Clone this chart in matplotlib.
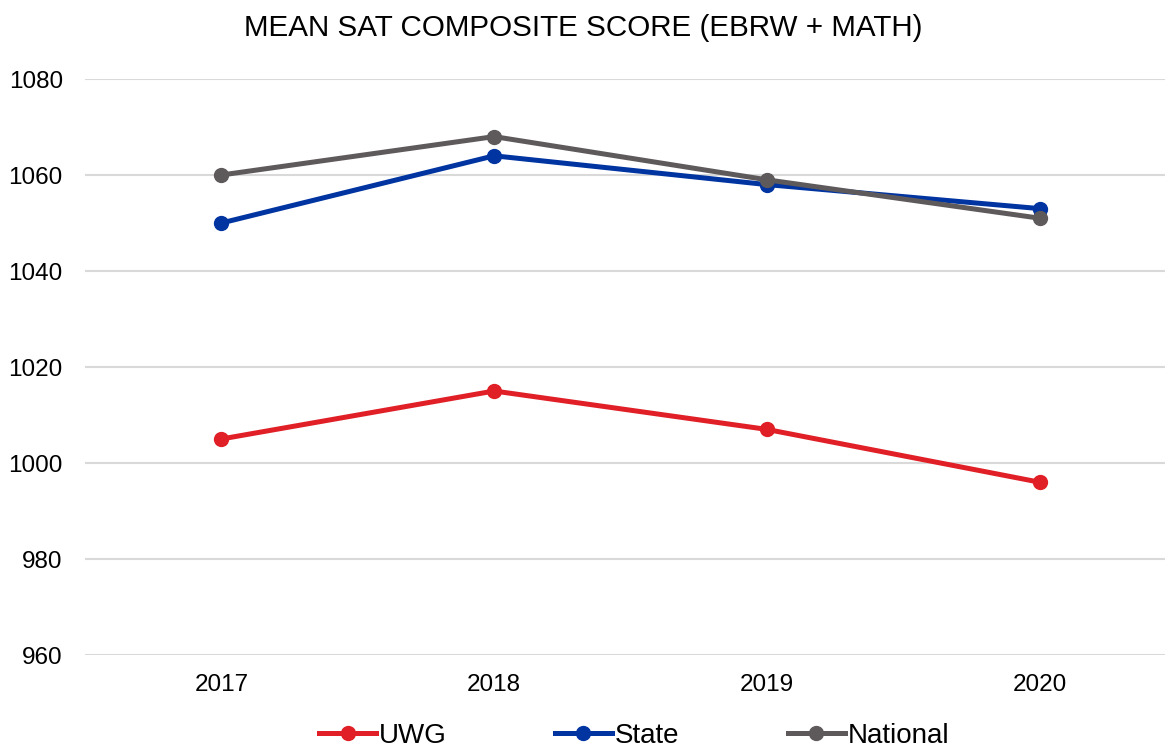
import matplotlib.pyplot as plt

years = ["2017", "2018", "2019", "2020"]
uwg = [1005, 1015, 1007, 996]
state = [1050, 1064, 1058, 1053]
national = [1060, 1068, 1059, 1051]

plt.rcParams['font.family'] = ['Liberation Sans', 'DejaVu Sans']

fig = plt.figure(figsize=(11.65, 7.49), dpi=100)
ax = fig.add_axes([85 / 1165, 1 - 655 / 749, (1176 - 85) / 1165, (655 - 79) / 749])

x = range(len(years))
ax.plot(x, uwg, color='#E01F26', lw=3.6, marker='o', ms=10, label='UWG')
ax.plot(x, state, color='#0034A1', lw=3.6, marker='o', ms=10, label='State')
ax.plot(x, national, color='#5E5A5C', lw=3.6, marker='o', ms=10, label='National')

ax.set_xlim(-0.5, 3.5)
ax.set_ylim(960, 1080)
ax.set_yticks(range(960, 1081, 20))
ax.set_xticks(list(x))
ax.set_xticklabels(years)
ax.yaxis.grid(True, color='#D9D9D9', lw=1.5)
ax.set_axisbelow(True)
for s in ax.spines.values():
    s.set_visible(False)
ax.tick_params(length=0, labelsize=17.5, colors='black')
ax.tick_params(axis='y', pad=16)
ax.tick_params(axis='x', pad=14)

fig.text(583 / 1165, 1 - 28 / 749, 'MEAN SAT COMPOSITE SCORE (EBRW + MATH)',
         ha='center', va='center', fontsize=21.3)

fig.legend(loc='center', bbox_to_anchor=(634 / 1165, 1 - 736 / 749), ncol=3,
           frameon=False, fontsize=20, handlelength=2.05, handletextpad=0.1,
           columnspacing=3.9)

fig.savefig('out.png', dpi=100)
